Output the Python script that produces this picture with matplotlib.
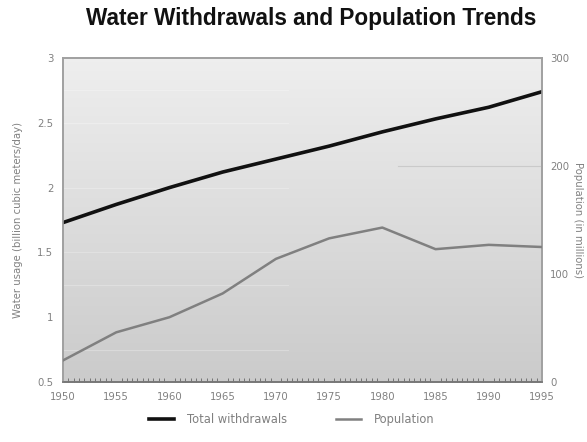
import numpy as np
import matplotlib.pyplot as plt
from matplotlib.ticker import MultipleLocator
from matplotlib.lines import Line2D

# values
years = [1950, 1955, 1960, 1965, 1970, 1975, 1980, 1985, 1990, 1995]
withdrawals = [1.73, 1.87, 2.00, 2.12, 2.22, 2.32, 2.43, 2.53, 2.62, 2.74]  # billion m3/day
population = [20, 46, 60, 82, 114, 133, 143, 123, 127, 125]  # millions

leftTicks = [0.5, 1, 1.5, 2, 2.5, 3]
leftTickLabels = ['0.5', '1', '1.5', '2', '2.5', '3']
rightTicks = [0, 100, 200, 300]
xTicks = years

fig = plt.figure(figsize=(5.87, 4.42), dpi=100)
ax = fig.add_axes([0.1073, 0.1357, 0.816, 0.7331])

# grey gradient background, light at the top
shade = np.linspace(0.935, 0.795, 256)
grad = np.dstack([shade, shade, shade]).reshape(256, 1, 3)
ax.imshow(grad, aspect='auto', extent=[0, 1, 0, 1], transform=ax.transAxes,
          zorder=0, origin='upper')

ax.set_xlim(1950, 1995)
ax.set_ylim(0.5, 3)

# faint ghost grid lines seen in the reference
for v in [2.75, 2.5, 2.0, 1.5, 1.25, 0.75]:
    ax.axhline(v, xmin=0, xmax=0.47, color='white', alpha=0.25, lw=0.8, zorder=1)

ax.plot(years, withdrawals, color='#111111', lw=2.6, zorder=3)

ax2 = ax.twinx()
ax2.set_ylim(0, 300)
ax2.axhline(200, xmin=0.7, xmax=1, color='#bbbbbb', alpha=0.6, lw=0.8, zorder=1)
ax2.plot(years, population, color='#808080', lw=1.8, zorder=3)

tickColor = '#808080'
fs = 7.3
ax.set_xticks(xTicks)
ax.set_xticklabels([str(y) for y in xTicks])
ax.xaxis.set_minor_locator(MultipleLocator(0.5))
ax.tick_params(axis='x', which='major', length=0, pad=7, labelsize=fs, labelcolor=tickColor)
ax.tick_params(axis='x', which='minor', direction='in', length=3, color='#666666', width=0.6)
ax.set_yticks(leftTicks)
ax.set_yticklabels(leftTickLabels)
ax.tick_params(axis='y', length=0, pad=7, labelsize=fs, labelcolor=tickColor)
ax2.set_yticks(rightTicks)
ax2.tick_params(axis='y', length=0, pad=6, labelsize=fs, labelcolor=tickColor)

ax.set_ylabel('Water usage (billion cubic meters/day)', fontsize=fs, color=tickColor, labelpad=10)
ax2.set_ylabel('Population (in millions)', fontsize=fs, color=tickColor, rotation=270, labelpad=10)

for a in [ax, ax2]:
    for sp in ['left', 'top', 'right']:
        a.spines[sp].set_color('#a0a0a0')
    a.spines['bottom'].set_color('#777777')
    for sp in a.spines.values():
        sp.set_linewidth(1.2)

fig.text(0.53, 0.958, 'Water Withdrawals and Population Trends', ha='center', va='center',
         fontsize=16.3, fontweight='bold', family=['Liberation Sans', 'DejaVu Sans'],
         color='#111111')

handles = [Line2D([], [], color='#111111', lw=2.6), Line2D([], [], color='#808080', lw=1.8)]
fig.legend(handles, ['Total withdrawals', 'Population'], loc='center', bbox_to_anchor=(0.497, 0.05),
           ncol=2, frameon=False, fontsize=8.3, labelcolor=tickColor, handlelength=2.2,
           handletextpad=1.1, columnspacing=4.2)

plt.savefig('out.png', dpi=100)
